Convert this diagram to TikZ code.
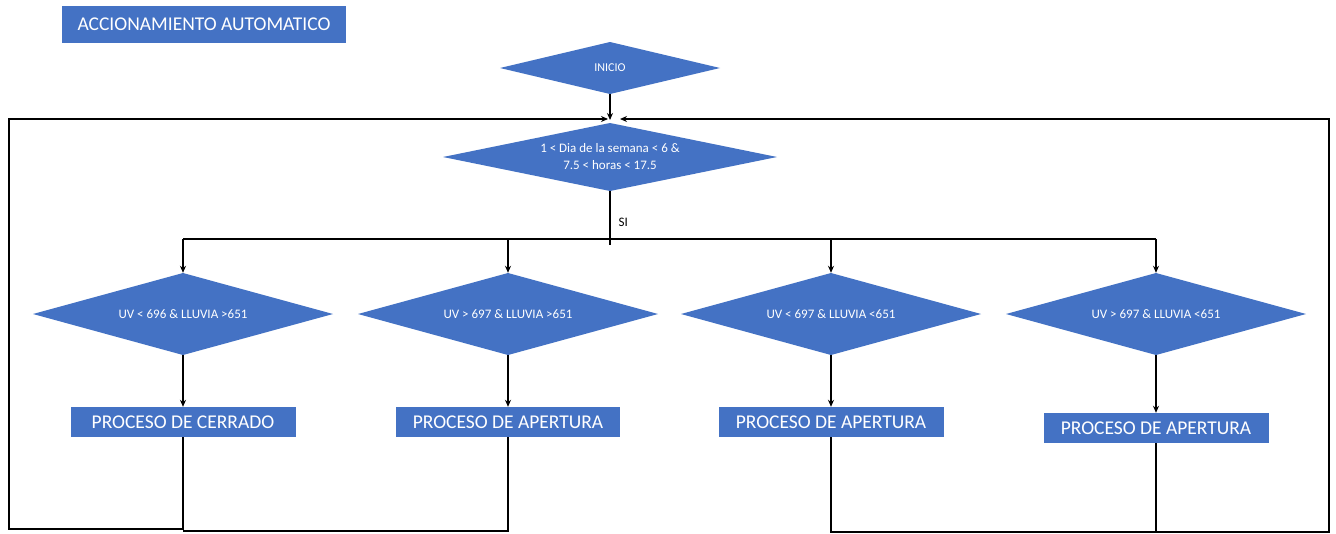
\documentclass[tikz,border=0pt]{standalone}
\usepackage{fontspec}
\setmainfont{Carlito}
\usetikzlibrary{arrows.meta}
\definecolor{officeblue}{HTML}{4472C4}
\begin{document}
\begin{tikzpicture}[x=1pt,y=-1pt,
  bluebox/.style={rectangle,fill=officeblue,text=white,inner sep=0pt},
  decision/.style={rectangle,text=white,inner sep=0pt,align=center,
    path picture={\fill[officeblue] (path picture bounding box.west) -- (path picture bounding box.north) -- (path picture bounding box.east) -- (path picture bounding box.south) -- cycle;}},
  conn/.style={draw=black,line width=1.3pt},
  arr/.style={conn,-{Stealth[length=7pt,width=6pt]}}]
\useasboundingbox (0,0) rectangle (1336,533);
\fill[white] (0,0) rectangle (1336,533);
% title
\node[bluebox,minimum width=284pt,minimum height=37pt,font=\fontsize{19.5}{24}\selectfont] (title) at (204,24.5) {ACCIONAMIENTO AUTOMATICO};
% start
\node[decision,minimum width=220pt,minimum height=52pt,font=\fontsize{12}{14}\selectfont] (inicio) at (610,68) {INICIO};
% main decision
\node[decision,minimum width=334pt,minimum height=68pt,font=\fontsize{13}{17}\selectfont] (cond) at (610,157) {1 < Dia de la semana < 6 \&\\7.5 < horas < 17.5};
% branch decisions
\node[decision,minimum width=300pt,minimum height=82pt,font=\fontsize{13}{15}\selectfont] (d1) at (183,314) {UV < 696 \& LLUVIA >651};
\node[decision,minimum width=300pt,minimum height=82pt,font=\fontsize{13}{15}\selectfont] (d2) at (508,314) {UV > 697 \& LLUVIA >651};
\node[decision,minimum width=300pt,minimum height=82pt,font=\fontsize{13}{15}\selectfont] (d3) at (831,314) {UV < 697 \& LLUVIA <651};
\node[decision,minimum width=300pt,minimum height=82pt,font=\fontsize{13}{15}\selectfont] (d4) at (1156,314) {UV > 697 \& LLUVIA <651};
% process boxes
\node[bluebox,minimum width=225pt,minimum height=30pt,font=\fontsize{19.5}{24}\selectfont] (p1) at (183,422) {PROCESO DE CERRADO};
\node[bluebox,minimum width=224pt,minimum height=30pt,font=\fontsize{19.5}{24}\selectfont] (p2) at (508,422) {PROCESO DE APERTURA};
\node[bluebox,minimum width=225pt,minimum height=30pt,font=\fontsize{19.5}{24}\selectfont] (p3) at (831,422) {PROCESO DE APERTURA};
\node[bluebox,minimum width=225pt,minimum height=30pt,font=\fontsize{19.5}{24}\selectfont] (p4) at (1156,428) {PROCESO DE APERTURA};
% coordinates
\coordinate (jl) at (610,120);
\coordinate (jr) at (620,119);
\coordinate (busend) at (610,245);
\coordinate (bl) at (183,239);
\coordinate (br) at (1156,239);
% connectors
\draw[arr] (inicio.south) -- (jl);
\draw[conn] (cond.south) -- (busend);
\node[font=\fontsize{13}{15}\selectfont,anchor=west] (si) at (615,222) {SI};
\draw[conn] (bl) -- (br);
\draw[arr] (bl) -- (d1.north);
\draw[arr] (508,239) -- (d2.north);
\draw[arr] (831,239) -- (d3.north);
\draw[arr] (br) -- (d4.north);
\draw[arr] (d1.south) -- (p1.north);
\draw[arr] (d2.south) -- (p2.north);
\draw[arr] (d3.south) -- (p3.north);
\draw[arr] (d4.south) -- (p4.north);
% return loops
\draw[arr] (p1.south) |- (9,529) -- (9,119) -- (608,119);
\draw[conn] (p2.south) |- (183,531);
\draw[arr] (p3.south) |- (1329,532) -- (1329,119) -- (jr);
\draw[conn] (p4.south) -- (1156,532);
\end{tikzpicture}
\end{document}
